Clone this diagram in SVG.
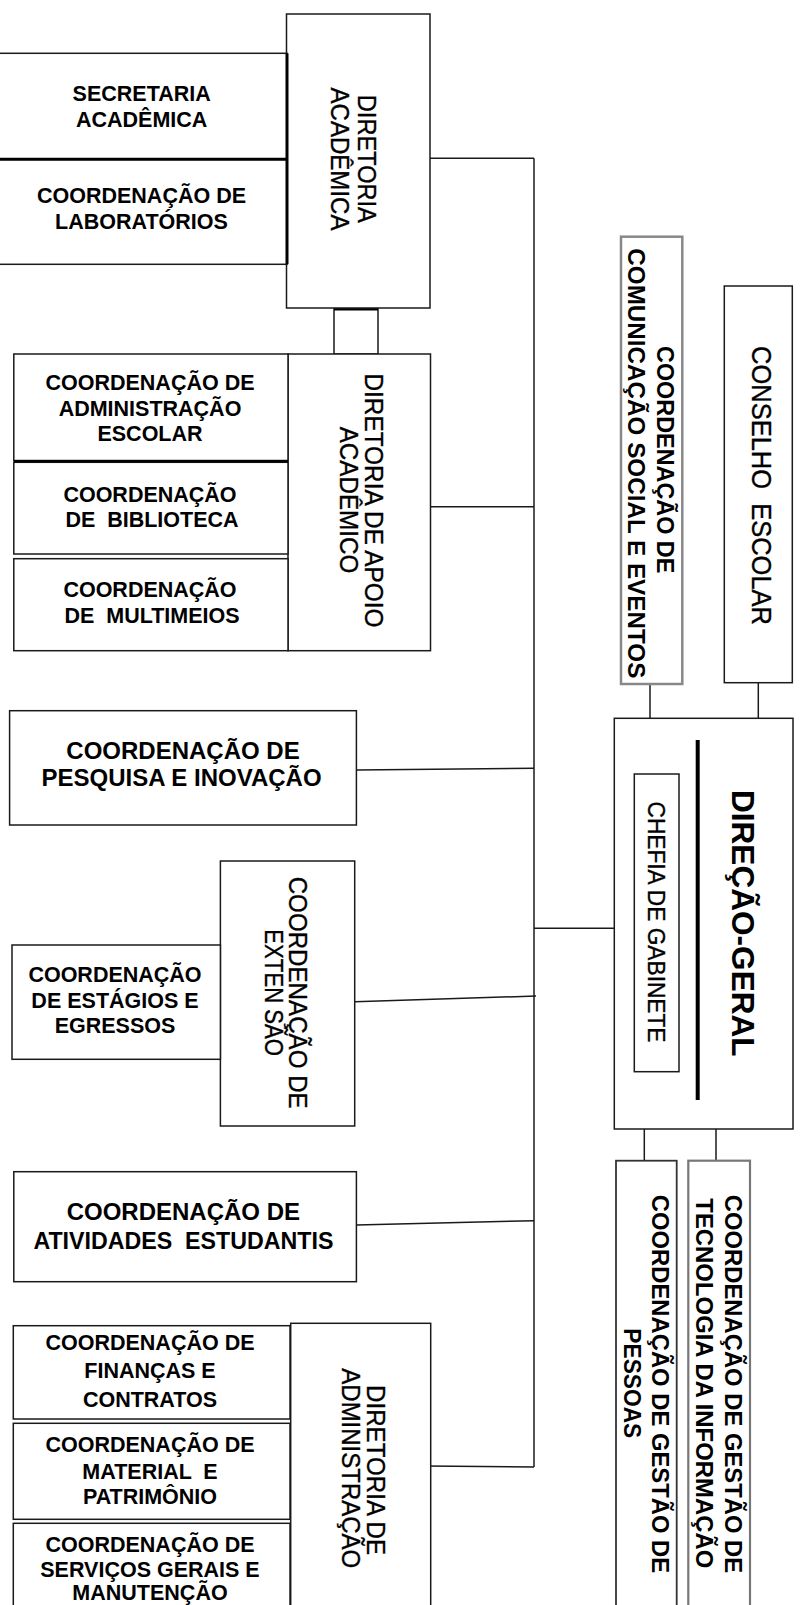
<svg xmlns="http://www.w3.org/2000/svg" width="801" height="1605" viewBox="0 0 801 1605">
<style>
.b{fill:#fff;stroke:#1a1a1a;stroke-width:1.5}
.thick{stroke:#000;stroke-width:3;fill:none}
.c{stroke:#1a1a1a;stroke-width:1.5;fill:none}
.h{font-family:"Liberation Sans",Arial,sans-serif;font-weight:bold;font-size:21.5px;fill:#000;text-anchor:middle}
.h2{font-family:"Liberation Sans",Arial,sans-serif;font-weight:bold;font-size:24px;fill:#000;text-anchor:middle}
.vr{font-family:"Liberation Sans",Arial,sans-serif;font-size:26.5px;fill:#000;stroke:#000;stroke-width:0.35;text-anchor:middle}
.vb{font-family:"Liberation Sans",Arial,sans-serif;font-weight:bold;font-size:24px;fill:#000;text-anchor:middle}
</style>
<rect width="801" height="1605" fill="#fff"/>

<g id="connectors">
<path class="c" d="M534 158.3V1467"/>
<path class="c" d="M430 158.3H534"/>
<rect class="b" x="334" y="308" width="44" height="46"/>
<path class="thick" d="M334 309H378"/>
<path class="c" d="M429 506.7H534"/>
<path class="c" d="M356.4 770L534 768.3"/>
<path class="c" d="M534 928.3H636"/>
<path class="c" d="M355 1001.7L536 996"/>
<path class="c" d="M356.4 1225L534 1220.7"/>
<path class="c" d="M426 1466L534 1467"/>
<path class="c" d="M650 684V718.3"/>
<path class="c" d="M758.3 682.7V723"/>
<path class="c" d="M644.3 1126V1166"/>
<path class="c" d="M716 1124V1168"/>
</g>

<g id="dir-academica">
<rect class="b" x="286.5" y="14" width="143.5" height="294"/>
<text class="vr" transform="rotate(90)" x="158.8" y="-358" textLength="128" lengthAdjust="spacingAndGlyphs">DIRETORIA</text>
<text class="vr" transform="rotate(90)" x="159" y="-330.6" textLength="143" lengthAdjust="spacingAndGlyphs">ACADÊMICA</text>
</g>

<g id="sec-academica">
<rect class="b" x="-3" y="53.3" width="290" height="106"/>
<text class="h" x="141.7" y="100.7">SECRETARIA</text>
<text class="h" x="141.7" y="127.3">ACADÊMICA</text>
</g>

<g id="coord-laboratorios">
<rect class="b" x="-3" y="159.3" width="290" height="105"/>
<text class="h" x="141.5" y="202.7">COORDENAÇÃO DE</text>
<text class="h" x="141.5" y="229">LABORATÓRIOS</text>
</g>
<path class="thick" d="M287 53.3V264.3M-3 159.3H287"/>

<g id="dir-apoio">
<rect class="b" x="288" y="354" width="142.5" height="296.7"/>
<text class="vr" transform="rotate(90)" x="500.5" y="-365" textLength="254" lengthAdjust="spacingAndGlyphs">DIRETORIA DE APOIO</text>
<text class="vr" transform="rotate(90)" x="500" y="-340.2" textLength="146.7" lengthAdjust="spacingAndGlyphs">ACADÊMICO</text>
</g>

<g id="coord-adm-escolar">
<rect class="b" x="13.8" y="354" width="274.2" height="106.5"/>
<text class="h" x="150" y="390">COORDENAÇÃO DE</text>
<text class="h" x="150" y="415.7">ADMINISTRAÇÃO</text>
<text class="h" x="150" y="441">ESCOLAR</text>
</g>

<g id="coord-biblioteca">
<rect class="b" x="13.8" y="462.3" width="274.2" height="91.7"/>
<text class="h" x="150" y="501.7">COORDENAÇÃO</text>
<text class="h" x="152" y="527.3" xml:space="preserve">DE  BIBLIOTECA</text>
</g>
<path class="thick" d="M13.8 461.3H288" style="stroke-width:2.5"/>

<g id="coord-multimeios">
<rect class="b" x="13.8" y="558.7" width="274.2" height="92"/>
<text class="h" x="150" y="597.3">COORDENAÇÃO</text>
<text class="h" x="152" y="623.3" xml:space="preserve">DE  MULTIMEIOS</text>
</g>

<g id="coord-pesquisa">
<rect class="b" x="9.6" y="710.7" width="346.8" height="114.3"/>
<text class="h2" x="183" y="759.3">COORDENAÇÃO DE</text>
<text class="h2" x="181.6" y="786">PESQUISA E INOVAÇÃO</text>
</g>

<g id="coord-extensao">
<rect class="b" x="220.4" y="861" width="134.3" height="265"/>
<text class="vr" transform="rotate(90)" x="992.7" y="-288.6" textLength="232" lengthAdjust="spacingAndGlyphs">COORDENAÇÃO DE</text>
<text class="vr" transform="rotate(90)" x="992.7" y="-265" textLength="126.7" lengthAdjust="spacingAndGlyphs">EXTEN SÃO</text>
</g>

<g id="coord-estagios">
<rect class="b" x="12" y="945" width="208.4" height="114.3"/>
<text class="h" x="115" y="981.7">COORDENAÇÃO</text>
<text class="h" x="115" y="1007.7">DE ESTÁGIOS E</text>
<text class="h" x="115" y="1032.7">EGRESSOS</text>
</g>

<g id="coord-atividades">
<rect class="b" x="13.8" y="1171.7" width="342.6" height="110"/>
<text class="h2" x="183.3" y="1220">COORDENAÇÃO DE</text>
<text class="h2" x="183.4" y="1249" xml:space="preserve" textLength="300" lengthAdjust="spacingAndGlyphs">ATIVIDADES  ESTUDANTIS</text>
</g>

<g id="dir-administracao">
<rect class="b" x="290.7" y="1323.3" width="140" height="290"/>
<text class="vr" transform="rotate(90)" x="1470" y="-366.7" textLength="170" lengthAdjust="spacingAndGlyphs">DIRETORIA DE</text>
<text class="vr" transform="rotate(90)" x="1468.3" y="-341.7" textLength="200" lengthAdjust="spacingAndGlyphs">ADMINISTRAÇÃO</text>
</g>

<g id="coord-financas">
<rect class="b" x="13.3" y="1325.7" width="276.7" height="93.3"/>
<text class="h" x="150" y="1350">COORDENAÇÃO DE</text>
<text class="h" x="150" y="1378.3">FINANÇAS E</text>
<text class="h" x="150" y="1407.3">CONTRATOS</text>
</g>

<g id="coord-material">
<rect class="b" x="13.3" y="1423.3" width="276.7" height="96"/>
<text class="h" x="150" y="1452.3">COORDENAÇÃO DE</text>
<text class="h" x="150" y="1479" xml:space="preserve">MATERIAL  E</text>
<text class="h" x="150" y="1504">PATRIMÔNIO</text>
</g>

<g id="coord-servicos">
<rect class="b" x="13.3" y="1523.3" width="276.7" height="90"/>
<text class="h" x="150" y="1552">COORDENAÇÃO DE</text>
<text class="h" x="150" y="1576.5">SERVIÇOS GERAIS E</text>
<text class="h" x="150" y="1599.5">MANUTENÇÃO</text>
</g>

<g id="coord-comunicacao">
<rect x="621" y="236.7" width="61.3" height="447.3" fill="#fff" stroke="#888" stroke-width="2.5"/>
<text class="vb" transform="rotate(90)" x="459.7" y="-656.7" textLength="227.3" lengthAdjust="spacingAndGlyphs">COORDENAÇÃO DE</text>
<text class="vb" transform="rotate(90)" x="463.3" y="-628.3" textLength="430" lengthAdjust="spacingAndGlyphs">COMUNICAÇÃO SOCIAL E EVENTOS</text>
</g>

<g id="conselho-escolar">
<rect class="b" x="724.3" y="286" width="68" height="396.7"/>
<text class="vr" transform="rotate(90)" x="485.5" y="-751.7" textLength="279" lengthAdjust="spacingAndGlyphs" style="font-size:27px" xml:space="preserve">CONSELHO  ESCOLAR</text>
</g>

<g id="direcao-geral">
<rect class="b" x="614.3" y="718.3" width="178.7" height="410.7"/>
<path d="M697.7 740V1100" stroke="#000" stroke-width="4"/>
<text class="vb" transform="rotate(90)" x="923.3" y="-731.7" textLength="266.7" lengthAdjust="spacingAndGlyphs" style="font-size:32px">DIREÇÃO-GERAL</text>
</g>

<g id="chefia-gabinete">
<rect class="b" x="634.3" y="774" width="44.7" height="297.7"/>
<text class="vr" transform="rotate(90)" x="922" y="-648.3" textLength="241" lengthAdjust="spacingAndGlyphs" style="font-size:23px">CHEFIA DE GABINETE</text>
</g>

<g id="coord-gestao-pessoas">
<rect x="616" y="1160.7" width="60.7" height="460" fill="#fff" stroke="#333" stroke-width="1.8"/>
<text class="vb" transform="rotate(90)" x="1384" y="-651.7" textLength="378.3" lengthAdjust="spacingAndGlyphs" style="font-size:23.5px">COORDENAÇÃO DE GESTÃO DE</text>
<text class="vb" transform="rotate(90)" x="1383.3" y="-624.3" textLength="110" lengthAdjust="spacingAndGlyphs" style="font-size:23.5px">PESSOAS</text>
</g>

<g id="coord-gestao-ti">
<rect x="688.3" y="1160.7" width="61.7" height="460" fill="#fff" stroke="#777" stroke-width="2.2"/>
<text class="vb" transform="rotate(90)" x="1384" y="-725" textLength="378.3" lengthAdjust="spacingAndGlyphs" style="font-size:23.5px">COORDENAÇÃO DE GESTÃO DE</text>
<text class="vb" transform="rotate(90)" x="1383.3" y="-696" textLength="370" lengthAdjust="spacingAndGlyphs" style="font-size:23.5px">TECNOLOGIA DA INFORMAÇÃO</text>
</g>
</svg>
